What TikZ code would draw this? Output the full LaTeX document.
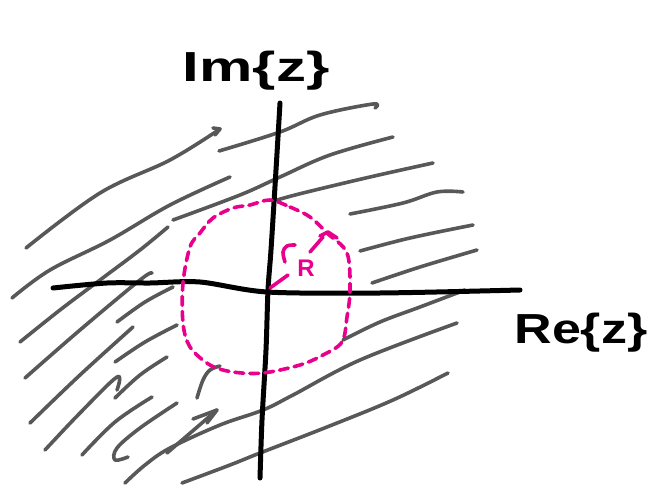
\documentclass[tikz,border=0pt]{standalone}
\usepackage{fontspec}
\setsansfont{Liberation Sans}
\definecolor{pinkpen}{RGB}{232,0,140}
\definecolor{graypen}{RGB}{88,88,88}
\tikzset{
  hatch/.style={draw=graypen, line width=3.6pt, line cap=round, line join=round},
  axisline/.style={draw=black, line width=5pt, line cap=round, line join=round},
  pinkline/.style={draw=pinkpen, line width=3.6pt, line cap=round, line join=round},
  pinkdash/.style={pinkline, dash pattern=on 9pt off 6pt},
  lbl/.style={inner sep=0pt, font=\sffamily\bfseries}
}
\begin{document}
\begin{tikzpicture}[x=1pt,y=-1pt]
\useasboundingbox (0,0) rectangle (647,486);
% hatching, left
\draw[hatch] plot[smooth, tension=0.6] coordinates {(26,248) (100,193) (170,160) (220,129)};
\draw[hatch] (213,128) -- (220,129) -- (215,135);
\draw[hatch] plot[smooth, tension=0.6] coordinates {(219,151) (280,132) (320,115) (373,104) (375,108)};
\draw[hatch] plot[smooth, tension=0.6] coordinates {(12,298) (50,270) (110,240) (170,205) (230,177)};
\draw[hatch] plot[smooth, tension=0.6] coordinates {(173,220) (240,195) (280,177) (330,155) (393,137)};
\draw[hatch] plot[smooth, tension=0.6] coordinates {(20,342) (60,310) (100,280) (140,250) (168,227)};
\draw[hatch] plot[smooth, tension=0.6] coordinates {(25,378) (80,330) (140,280) (152,273)};
\draw[hatch] plot[smooth, tension=0.6] coordinates {(117,322) (145,302) (173,287)};
\draw[hatch] plot[smooth, tension=0.6] coordinates {(30,423) (80,375) (133,327)};
\draw[hatch] plot[smooth, tension=0.6] coordinates {(115,362) (145,342) (177,325)};
\draw[hatch] plot[smooth, tension=0.6] coordinates {(45,450) (80,413) (117,377) (117,390)};
\draw[hatch] plot[smooth, tension=0.6] coordinates {(115,398) (140,375) (167,357)};
\draw[hatch] plot[smooth, tension=0.6] coordinates {(82,455) (115,422) (152,397)};
\draw[hatch] plot[smooth, tension=0.6] coordinates {(128,457) (115,460) (117,448) (140,428) (177,403)};
\draw[hatch] plot[smooth, tension=0.6] coordinates {(197,398) (203,380) (210,370) (220,366)};
\draw[hatch] plot[smooth, tension=0.6] coordinates {(125,483) (145,465) (170,448) (220,425) (263,410) (293,395) (360,360) (457,323)};
\draw[hatch] (167,453) -- (217,410);
\draw[hatch] (193,419) -- (217,410) -- (207,423);
\draw[hatch] plot[smooth, tension=0.6] coordinates {(182,483) (230,465) (260,453) (327,427) (393,400) (448,373)};
% hatching, right
\draw[hatch] plot[smooth, tension=0.6] coordinates {(277,200) (303,193) (370,177) (433,163)};
\draw[hatch] plot[smooth, tension=0.6] coordinates {(350,214) (403,203) (437,192) (463,192)};
\draw[hatch] plot[smooth, tension=0.6] coordinates {(360,251) (410,238) (473,225)};
\draw[hatch] plot[smooth, tension=0.6] coordinates {(372,283) (420,267) (477,250)};
\draw[hatch] plot[smooth, tension=0.6] coordinates {(343,340) (380,322) (420,307) (465,290)};
% axes
\draw[axisline] plot[smooth, tension=0.5] coordinates {(53,288) (107,283) (150,283) (200,282) (267,292) (380,293) (520,290)};
\draw[axisline] plot[smooth, tension=0.5] coordinates {(280,103) (276,170) (271,250) (268,290) (266,350) (262,420) (260,478)};
% circle of radius R
\draw[pinkdash] plot[smooth cycle, tension=0.55] coordinates {(270,200) (290,207) (310,217) (327,233) (347,253) (350,290) (347,317) (342,342) (323,355) (300,365) (263,373) (233,372) (210,365) (190,347) (183,323) (183,283) (190,247) (200,233) (213,218) (233,208) (250,205)};
\draw[pinkline] (270,288) -- (288,275);
\draw[pinkline] (310,252) -- (323,237);
\draw[pinkline] (320,236) -- (328,232) -- (337,238);
\draw[pinkline] plot[smooth, tension=0.6] coordinates {(285,262) (283,252) (287,246) (295,245)};
\node[lbl, text=pinkpen, font=\sffamily\bfseries\fontsize{24}{24}\selectfont] (rlabel) at (306,268) {R};
% labels
\node[lbl] (imlabel) at (256,71) {\scalebox{1.5}[1.05]{\fontsize{40}{40}\selectfont Im\{z\}}};
\node[lbl] (relabel) at (581,333) {\scalebox{1.3}[1.05]{\fontsize{40}{40}\selectfont Re\{z\}}};
\end{tikzpicture}
\end{document}
